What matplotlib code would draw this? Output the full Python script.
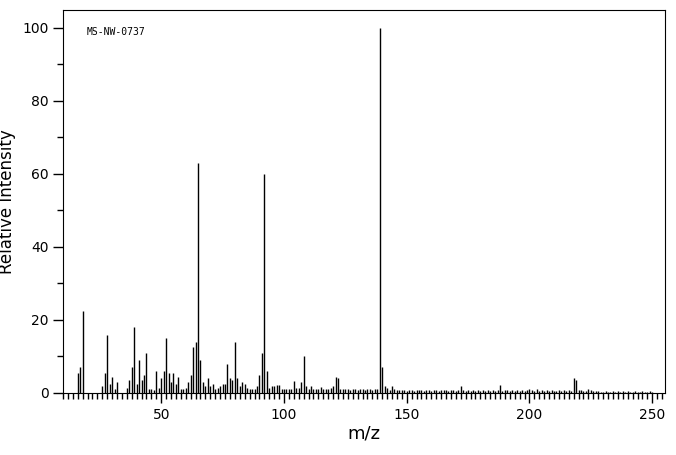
import matplotlib.pyplot as plt
from matplotlib.ticker import MultipleLocator

# main peaks (m/z, relative intensity)
mz_low = [16, 17, 18, 26, 27, 28, 29, 30, 31, 32, 36, 37, 38, 39, 40, 41, 42, 43, 44, 45,
          46, 47, 48, 49, 50, 51, 52, 53, 54, 55, 56, 57, 58, 59, 60, 61, 62, 63, 64, 65,
          66, 67, 68, 69, 70, 71, 72, 73, 74, 75, 76, 77, 78, 79, 80, 81, 82, 83, 84, 85,
          86, 87, 88, 89, 90, 91, 92, 93, 94, 95]
int_low = [5.5, 7, 22.5, 2, 5.5, 16, 2.5, 4.5, 1, 3, 1.5, 3.5, 7, 18, 2.5, 9, 3.5, 5, 11, 1,
           1, 0.8, 6, 1.5, 4, 6, 15, 5.5, 3, 5.5, 2.5, 4.5, 1, 1, 1.5, 3, 5, 12.5, 14, 63,
           9, 3, 2, 4, 2, 2.5, 1, 1.5, 2, 2.5, 2.5, 8, 4, 3.5, 14, 4, 2, 3, 2.5, 1.5,
           1, 1, 1, 2, 5, 11, 60, 6, 1.5, 2]

mz_mid = [96, 97, 98, 99, 100, 101, 102, 103, 104, 105, 106, 107, 108, 109, 110, 111, 112,
          113, 114, 115, 116, 117, 118, 119, 120, 121, 122, 123, 124, 125, 126, 127, 128,
          129, 130, 131, 132, 133, 134, 135, 136, 137, 138, 139, 140, 141, 142, 143, 144]
int_mid = [2, 2.3, 2.3, 1, 1.2, 1, 1, 1, 3.2, 1.5, 1.5, 3, 10, 2, 1, 2, 1.2, 1, 1,
           1.7, 1, 1, 1, 1.5, 2, 4.5, 4, 1.2, 1.2, 1, 1, 0.8, 1, 1, 0.8, 1, 1, 0.8,
           1, 1, 0.8, 1, 1.2, 100, 7, 1.8, 1.5, 0.8, 2]

mz_high = list(range(145, 251))
int_high = [1, 0.8, 0.8, 0.7, 0.8, 0.6, 0.8, 0.7, 0.6, 0.8, 0.7, 0.8, 0.6, 0.7, 0.8, 0.6,
            0.7, 0.8, 0.6, 0.7, 0.8, 0.9, 0.6, 0.7, 0.8, 0.6, 0.7, 1.8, 0.8, 0.6, 0.7, 0.6,
            0.7, 0.6, 0.7, 0.6, 0.8, 0.6, 0.7, 0.6, 0.8, 0.6, 0.7, 2.3, 0.6, 0.7, 0.8, 0.6,
            0.7, 0.6, 0.8, 0.6, 0.7, 0.6, 0.8, 1.0, 0.7, 0.6, 1.0, 0.6, 0.7, 0.6, 0.7, 0.6,
            0.7, 0.6, 0.6, 0.7, 0.6, 0.7, 0.6, 0.7, 0.6, 4.0, 3.5, 0.7, 0.7, 0.6, 0.5, 1.2,
            0.7, 0.6, 0.5, 0.6, 0.4, 0.4, 0.5, 0.4, 0.3, 0.5, 0.4, 0.6, 0.3, 0.5, 0.4, 0.6,
            0.4, 0.3, 0.5, 0.4, 0.3, 0.5, 0.4, 0.3, 0.5, 0.3]

mz = mz_low + mz_mid + mz_high
inten = int_low + int_mid + int_high

fig = plt.figure(figsize=(6.76, 4.55), dpi=100)
ax = fig.add_axes([63 / 676, 1 - 393 / 455, 602 / 676, 383 / 455])
ax.vlines(mz, 0, inten, color='black', linewidth=1)

ax.set_xlim(10.0, 255.2)
ax.set_ylim(0, 104.9)
ax.xaxis.set_major_locator(MultipleLocator(50))
ax.xaxis.set_minor_locator(MultipleLocator(2))
ax.yaxis.set_major_locator(MultipleLocator(20))
ax.yaxis.set_minor_locator(MultipleLocator(10))
ax.tick_params(which='major', direction='out', length=7, width=1, labelsize=10)
ax.tick_params(which='minor', direction='out', length=4, width=1)
for s in ax.spines.values():
    s.set_linewidth(0.8)

ax.set_xlabel('m/z', fontsize=13, labelpad=2)
ax.set_ylabel('Relative Intensity', fontsize=12, labelpad=4)
ax.text(0.04, 0.955, 'MS-NW-0737', transform=ax.transAxes, fontsize=7,
        family='DejaVu Sans Mono', va='top')

fig.savefig('out.png', dpi=100)
